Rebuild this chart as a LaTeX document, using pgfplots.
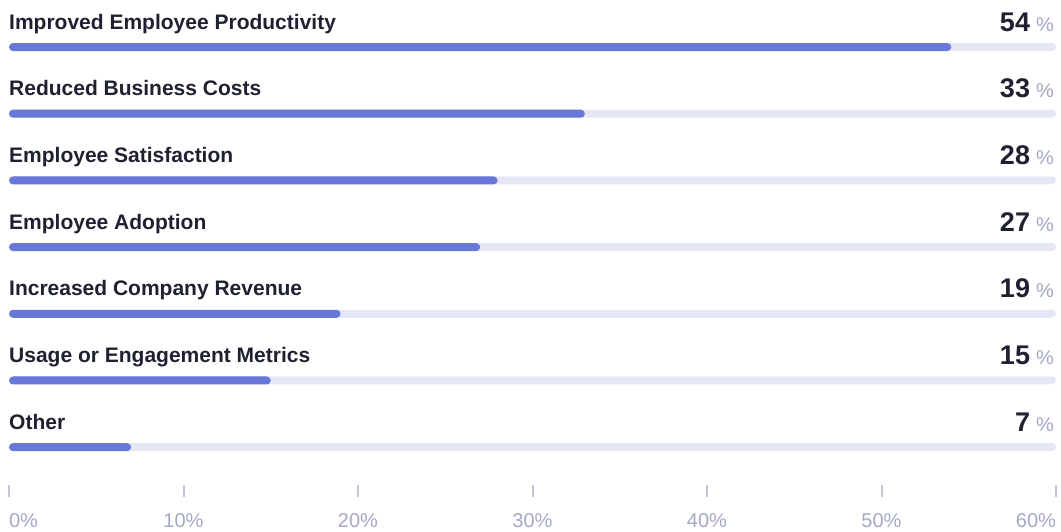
\documentclass[border=0pt]{standalone}
\usepackage{pgfplots}
\pgfplotsset{compat=1.18}
\usepackage{pgfplotstable}
\usepackage{fontspec}
\setmainfont{Liberation Sans}
\definecolor{barc}{HTML}{6878D8}
\definecolor{track}{HTML}{E6E7F6}
\definecolor{txt}{HTML}{1F2131}
\definecolor{pct}{HTML}{A4A8C4}
\definecolor{tickc}{HTML}{C3C6DA}
\pgfplotstableread[col sep=comma]{
idx,value,full,label
0,54,60,Improved Employee Productivity
1,33,60,Reduced Business Costs
2,28,60,Employee Satisfaction
3,27,60,Employee Adoption
4,19,60,Increased Company Revenue
5,15,60,Usage or Engagement Metrics
6,7,60,Other
}\datatable
\begin{document}
\begin{tikzpicture}
\begin{axis}[
  at={(0pt,34pt)}, anchor=south west,
  width=1061pt, height=497pt, scale only axis,
  xmin=-0.5158, xmax=60.287,
  ymin=-0.705, ymax=6.747, y dir=reverse,
  axis line style={draw=none},
  ytick=\empty,
  xtick={0,10,...,60},
  xticklabels={\rlap{0\%},10\%,20\%,30\%,40\%,50\%,\llap{60\%}},
  xtick pos=bottom,
  tick align=inside,
  major tick length=12pt,
  x tick style={draw=tickc, line width=2pt},
  xticklabel style={font=\fontsize{20}{22}\selectfont, text=pct, anchor=north, inner sep=0pt, yshift=-16pt},
  clip=false,
]
\addplot[xbar, bar width=8pt, bar shift=0pt, fill=track, draw=none, rounded corners=4pt] table[x=full, y=idx]{\datatable};
\addplot[xbar, bar width=8pt, bar shift=0pt, fill=barc, draw=none, rounded corners=4pt] table[x=value, y=idx]{\datatable};
\addplot[draw=none, mark=none, nodes near coords, point meta=explicit symbolic,
  every node near coord/.style={anchor=base west, inner sep=0pt, yshift=18pt, text=txt, font=\fontsize{21}{24}\bfseries\selectfont}]
  table[x expr=0, y=idx, meta=label]{\datatable};
\addplot[draw=none, mark=none, point meta=explicit symbolic,
  nodes near coords={{\fontsize{27}{30}\bfseries\selectfont\color{txt}\pgfplotspointmeta}\hspace{6pt}{\fontsize{20}{22}\selectfont\color{pct}\%}},
  every node near coord/.style={anchor=base east, inner sep=0pt, yshift=16pt, xshift=-2pt}]
  table[x expr=60, y=idx, meta=value]{\datatable};
\end{axis}
\pgfresetboundingbox
\path[use as bounding box] (0,0) rectangle (1061pt,531pt);
\end{tikzpicture}
\end{document}
